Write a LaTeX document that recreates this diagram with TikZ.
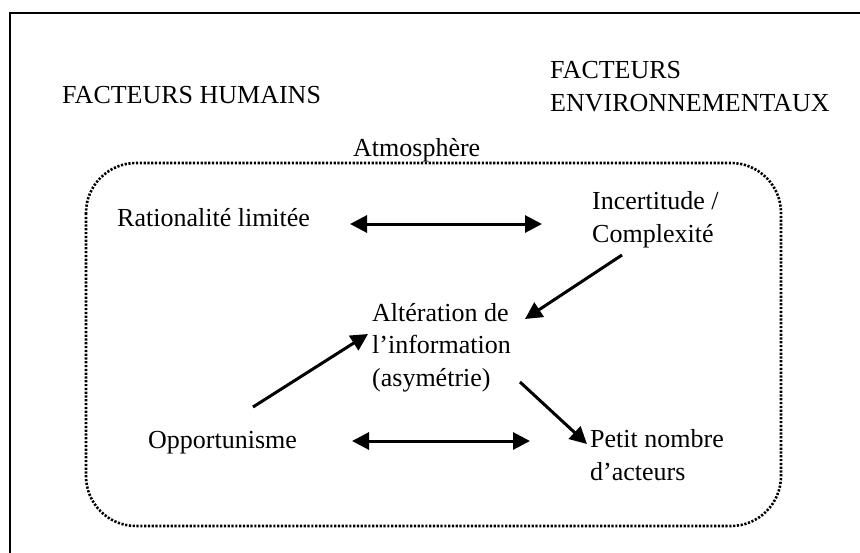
\documentclass[tikz,border=0pt]{standalone}
\usepackage{fontspec}
\setmainfont{Liberation Serif}
\usetikzlibrary{arrows.meta}
\begin{document}
\begin{tikzpicture}[x=1pt,y=-1pt,
  lbl/.style={inner sep=0pt,anchor=base west,align=left,font=\fontsize{26}{32.5}\selectfont},
  conn/.style={line width=3pt,-{Triangle[length=17pt,width=17pt]}},
  bconn/.style={line width=3pt,{Triangle[length=17pt,width=17pt]}-{Triangle[length=17pt,width=17pt]}}]
\useasboundingbox (0,0) rectangle (860,552);
\clip (0,0) rectangle (860,552);
% outer frame (extends beyond right and bottom edges)
\draw[line width=2.8pt] (10,13) rectangle (900,600);
% dotted rounded frame
\draw[line width=2.6pt,dash pattern=on 2.2pt off 1.6pt,rounded corners=50pt] (86,163) rectangle (781,526);
% texts (multi-line nodes: base = last line)
\node[lbl] (fh) at (62,103) {FACTEURS HUMAINS};
\node[lbl] (fe) at (550,111) {FACTEURS\\ENVIRONNEMENTAUX};
\node[lbl] (atm) at (353,156) {Atmosphère};
\node[lbl] (rat) at (117,226) {Rationalité limitée};
\node[lbl] (inc) at (592,242) {Incertitude /\\Complexité};
\node[lbl] (alt) at (372,386) {Altération de\\l’information\\(asymétrie)};
\node[lbl] (opp) at (148,448) {Opportunisme};
\node[lbl] (pet) at (590,480) {Petit nombre\\d’acteurs};
% connector ends
\coordinate (a1) at (350,224); \coordinate (a2) at (542,224);
\coordinate (b1) at (352,441); \coordinate (b2) at (530,441);
\coordinate (c1) at (622,255); \coordinate (c2) at (525,319);
\coordinate (d1) at (253,407); \coordinate (d2) at (368,334);
\coordinate (e1) at (520,382); \coordinate (e2) at (587,444);
% connectors
\draw[bconn] (a1) -- (a2);
\draw[bconn] (b1) -- (b2);
\draw[conn] (c1) -- (c2);
\draw[conn] (d1) -- (d2);
\draw[conn] (e1) -- (e2);
\end{tikzpicture}
\end{document}
